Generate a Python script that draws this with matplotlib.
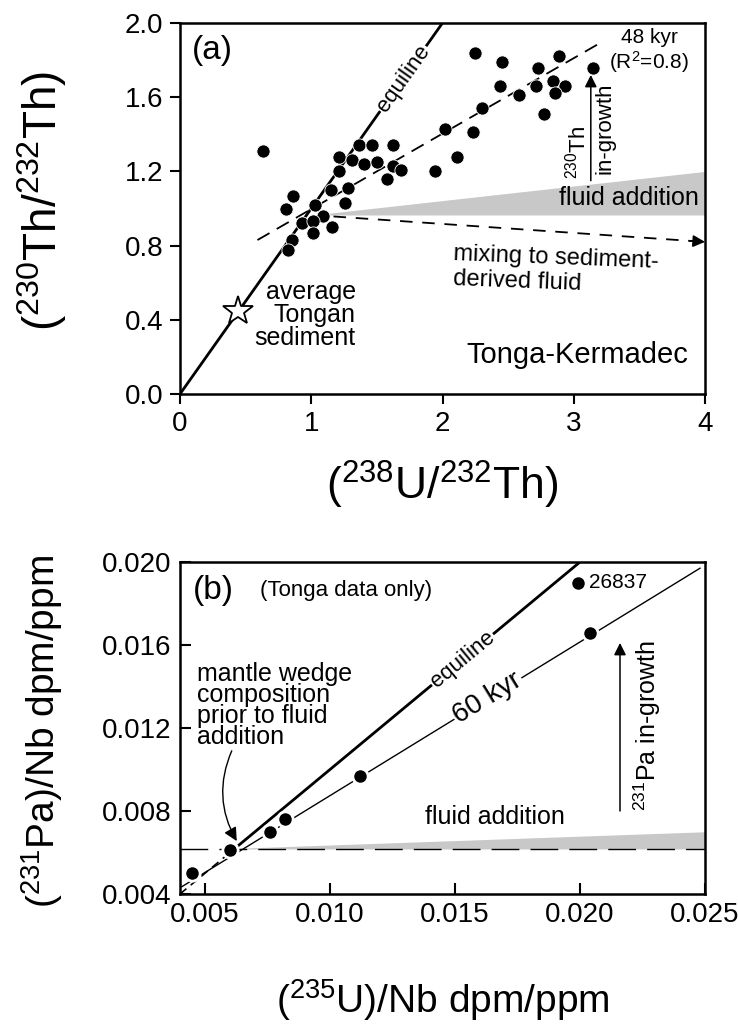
import numpy as np
import matplotlib
matplotlib.use("Agg")
import matplotlib.pyplot as plt

plt.rcParams['font.family'] = ['Liberation Sans', 'DejaVu Sans']
plt.rcParams['mathtext.fontset'] = 'custom'
plt.rcParams['mathtext.rm'] = 'Liberation Sans'
plt.rcParams['mathtext.default'] = 'regular'
plt.rcParams['lines.scale_dashes'] = False

# ---- panel (a) data : Tonga-Kermadec (238U/232Th) vs (230Th/232Th)
U_TH = [0.63, 2.02, 2.11, 1.36, 1.46, 1.62, 1.21, 1.31, 1.40, 1.50, 1.62, 1.68, 1.58, 1.21,
        1.28, 1.15, 1.26, 0.86, 0.81, 1.03, 1.09, 0.93, 1.01, 1.16, 1.94, 1.01, 0.85, 0.82,
        2.25, 2.45, 2.73, 2.89, 3.15, 2.44, 2.58, 2.71, 2.84, 2.93, 2.86, 2.77, 2.30, 2.23]
TH_TH = [1.31, 1.43, 1.28, 1.34, 1.34, 1.34, 1.28, 1.26, 1.24, 1.25, 1.23, 1.21, 1.16, 1.20,
         1.11, 1.10, 1.03, 1.07, 1.00, 1.02, 0.96, 0.92, 0.93, 0.90, 1.20, 0.87, 0.83, 0.775,
         1.84, 1.79, 1.76, 1.82, 1.76, 1.66, 1.61, 1.66, 1.69, 1.66, 1.62, 1.51, 1.54, 1.41]
SEDIMENT = (0.44, 0.45)
EQUI_A = [0.0, 2.0]
REGR_X = [0.59, 3.22]
REGR_Y = [0.83, 1.90]
FLUID_A_X = [1.14, 4.0]
FLUID_A_LO = [0.965, 0.965]
FLUID_A_HI = [0.975, 1.20]
MIX_X = [1.17, 4.0]
MIX_Y = [0.957, 0.82]
TH_ARROW_X = 3.13
TH_ARROW_Y = [1.15, 1.72]

# ---- panel (b) data : (235U)/Nb vs (231Pa)/Nb
U_NB = [0.0045, 0.0060, 0.0076, 0.0082, 0.0112, 0.0204, 0.0199]
PA_NB = [0.0050, 0.0061, 0.0070, 0.0076, 0.0097, 0.0166, 0.0190]
LABEL_PT = (0.0199, 0.0190)
KYR60_X = [0.00407, 0.0248]
KYR60_Y = [0.00435, 0.0197]
MANTLE = (0.0062, 0.0062)
EQUI_B = [0.004, 0.020]
BASE_Y = 0.00617
FLUID_B_X = [0.0062, 0.025]
FLUID_B_LO = [0.00617, 0.00617]
FLUID_B_HI = [0.0062, 0.0070]
PA_ARROW_X = 0.0216
PA_ARROW_Y = [0.0080, 0.0161]

fig = plt.figure(figsize=(7.38, 10.33), dpi=100)
ax = fig.add_axes([180/738, 1-394/1033, 525/738, 371/1033])
bx = fig.add_axes([180/738, 1-894/1033, 525/738, 332/1033])
GRAY = '#c8c8c8'

# ================= (a)
ax.set_xlim(0, 4)
ax.set_ylim(0, 2.0)
ax.fill_between(FLUID_A_X, FLUID_A_LO, FLUID_A_HI, color=GRAY, lw=0, zorder=1)
ax.plot(EQUI_A, EQUI_A, color='k', lw=2.0, zorder=2, solid_capstyle='butt')
ax.plot(REGR_X, REGR_Y, color='k', lw=1.3, dashes=(10, 6), zorder=2)
ax.plot(MIX_X, MIX_Y, color='k', lw=1.3, dashes=(9, 7), zorder=2)
ax.annotate('', xy=(MIX_X[1], MIX_Y[1]), xytext=(MIX_X[1]-0.12, MIX_Y[1]+0.0058),
            arrowprops=dict(arrowstyle='-|>', color='k', lw=1.2, mutation_scale=18,
                            shrinkA=0, shrinkB=0), annotation_clip=False)
ax.annotate('', xy=(TH_ARROW_X, TH_ARROW_Y[1]), xytext=(TH_ARROW_X, TH_ARROW_Y[0]),
            arrowprops=dict(arrowstyle='-|>', color='k', lw=1.1, mutation_scale=18,
                            shrinkA=0, shrinkB=0))
ax.plot(U_TH, TH_TH, 'o', color='k', ms=9.5, mec='white', mew=0.6, zorder=3)
ax.plot(*SEDIMENT, marker='*', ms=22, mfc='white', mec='k', mew=1.3, zorder=4)

ax.text(0.09, 1.85, '(a)', fontsize=24, ha='left', va='center')
ax.text(1.70, 1.70, 'equiline', fontsize=16, rotation=45, transform_rotates_text=True,
        ha='center', va='center', bbox=dict(fc='white', ec='none', pad=1), zorder=5)
ax.text(3.58, 1.92, '48 kyr', fontsize=15, ha='center', va='center')
ax.text(3.57, 1.79, '(R$^2$=0.8)', fontsize=15, ha='center', va='center')
ax.text(3.03, 1.30, '$^{230}$Th', fontsize=16, rotation=90, ha='center', va='center')
ax.text(3.24, 1.43, 'in-growth', fontsize=16, rotation=90, ha='center', va='center')
ax.text(3.95, 1.055, 'fluid addition', fontsize=18, ha='right', va='center')
ax.text(2.08, 0.735, 'mixing to sediment-', fontsize=17, ha='left', va='center', rotation=-2.2)
ax.text(2.08, 0.605, 'derived fluid', fontsize=17, ha='left', va='center', rotation=-2.2)
for i, line in enumerate(['average', 'Tongan', 'sediment']):
    ax.text(1.34, 0.55 - i*0.125, line, fontsize=18, ha='right', va='center')
ax.text(3.87, 0.21, 'Tonga-Kermadec', fontsize=21, ha='right', va='center')

ax.set_xticks([0, 1, 2, 3, 4])
ax.set_yticks(np.arange(0, 2.01, 0.4))
ax.yaxis.set_major_formatter(matplotlib.ticker.FormatStrFormatter('%.1f'))
ax.tick_params(direction='out', length=7, width=1.5, labelsize=20, pad=5)
ax.set_xlabel('($^{238}$U/$^{232}$Th)', fontsize=32, va='center')
ax.xaxis.set_label_coords(0.5, -0.245)
ax.set_ylabel('($^{230}$Th/$^{232}$Th)', fontsize=33, va='center')
ax.yaxis.set_label_coords(-0.263, 0.52)

# ================= (b)
bx.set_xlim(0.004, 0.025)
bx.set_ylim(0.004, 0.020)
bx.fill_between(FLUID_B_X, FLUID_B_LO, FLUID_B_HI, color=GRAY, lw=0, zorder=1)
bx.axhline(BASE_Y, color='k', lw=1.0, dashes=(20, 8), zorder=2)
bx.plot([MANTLE[0], EQUI_B[1]], [MANTLE[1], EQUI_B[1]], color='k', lw=2.0, zorder=2)
bx.plot([EQUI_B[0], MANTLE[0]], [EQUI_B[0], MANTLE[1]], color='k', lw=1.2, dashes=(6, 4), zorder=2)
bx.plot(KYR60_X, KYR60_Y, color='k', lw=1.0, zorder=2)
bx.plot(U_NB, PA_NB, 'o', color='k', ms=11, mec='white', mew=2.0, zorder=3)
bx.annotate('', xy=(PA_ARROW_X, PA_ARROW_Y[1]), xytext=(PA_ARROW_X, PA_ARROW_Y[0]),
            arrowprops=dict(arrowstyle='-|>', color='k', lw=1.1, mutation_scale=18,
                            shrinkA=0, shrinkB=0))
bx.annotate('', xy=(0.00627, 0.00655), xytext=(0.00607, 0.0109),
            arrowprops=dict(arrowstyle='-|>', color='k', lw=1.0, mutation_scale=20,
                            connectionstyle='arc3,rad=0.25', shrinkA=0, shrinkB=0))

slope = np.degrees(np.arctan((KYR60_Y[1]-KYR60_Y[0])/(KYR60_X[1]-KYR60_X[0])))
bx.text(0.0045, 0.01865, '(b)', fontsize=24, ha='left', va='center')
bx.text(0.0072, 0.01865, '(Tonga data only)', fontsize=16, ha='left', va='center')
bx.text(LABEL_PT[0]+0.00045, LABEL_PT[1], '26837', fontsize=15, ha='left', va='center')
bx.text(0.0153, 0.0153, 'equiline', fontsize=16, rotation=45, transform_rotates_text=True,
        ha='center', va='center', bbox=dict(fc='white', ec='none', pad=1), zorder=5)
bx.text(0.0163, 0.01345, '60 kyr', fontsize=20, rotation=slope, transform_rotates_text=True,
        ha='center', va='center', bbox=dict(fc='white', ec='none', pad=1), zorder=5)
bx.text(0.00467, 0.0152, 'mantle wedge\ncomposition\nprior to fluid\naddition', fontsize=18,
        ha='left', va='top', linespacing=0.85)
bx.text(0.0138, 0.0077, 'fluid addition', fontsize=18, ha='left', va='center')
bx.text(0.0227, 0.0121, '$^{231}$Pa in-growth', fontsize=18, rotation=90, ha='center', va='center')

bx.set_xticks([0.005, 0.010, 0.015, 0.020, 0.025])
bx.set_yticks([0.004, 0.008, 0.012, 0.016, 0.020])
bx.xaxis.set_major_formatter(matplotlib.ticker.FormatStrFormatter('%.3f'))
bx.yaxis.set_major_formatter(matplotlib.ticker.FormatStrFormatter('%.3f'))
bx.tick_params(direction='in', length=8, width=1.5, labelsize=20, pad=6)
bx.set_xlabel('($^{235}$U)/Nb dpm/ppm', fontsize=28, va='center')
bx.xaxis.set_label_coords(0.5, -0.32)
bx.set_ylabel('($^{231}$Pa)/Nb dpm/ppm', fontsize=28, va='center')
bx.yaxis.set_label_coords(-0.263, 0.49)

for a in (ax, bx):
    for s in a.spines.values():
        s.set_linewidth(1.8)

fig.savefig('out.png', dpi=100)
